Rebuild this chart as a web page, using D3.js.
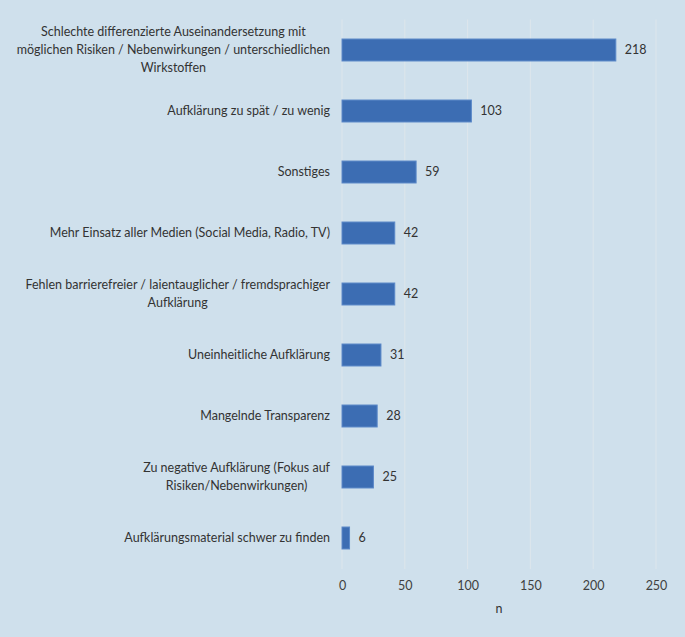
<!DOCTYPE html>
<html><head><meta charset="utf-8">
<script src="https://cdn.jsdelivr.net/npm/d3@7"></script>
<style>body{margin:0;background:#cfe0ec;} svg{display:block;}</style>
</head><body>
<svg id="c" width="685" height="637"></svg>
<script>
const categories = [
  ["Schlechte differenzierte Auseinandersetzung mit","möglichen Risiken / Nebenwirkungen / unterschiedlichen","Wirkstoffen"],
  ["Aufklärung zu spät / zu wenig"],
  ["Sonstiges"],
  ["Mehr Einsatz aller Medien (Social Media, Radio, TV)"],
  ["Fehlen barrierefreier / laientauglicher / fremdsprachiger","Aufklärung"],
  ["Uneinheitliche Aufklärung"],
  ["Mangelnde Transparenz"],
  ["Zu negative Aufklärung (Fokus auf","Risiken/Nebenwirkungen)"],
  ["Aufklärungsmaterial schwer zu finden"]
];
const values = [218, 103, 59, 42, 42, 31, 28, 25, 6];
const xTicks = [0, 50, 100, 150, 200, 250];
const axisTitle = "n";

const svg = d3.select("#c");
const font = "Lato, 'Open Sans', sans-serif";
svg.append("rect").attr("width",685).attr("height",637).attr("fill","#cfe0ec");

const x = d3.scaleLinear().domain([0,250]).range([342,656]);
const y = d3.scaleBand().domain(d3.range(values.length)).range([19.5,568.5]).paddingInner(0.64).paddingOuter(0.32);

// gridlines
svg.append("g").selectAll("line").data(xTicks).join("line")
  .attr("x1",d=>x(d)).attr("x2",d=>x(d)).attr("y1",19.5).attr("y2",569)
  .attr("stroke","#dde6ec").attr("stroke-width",1);

// bars
svg.append("g").selectAll("rect").data(values).join("rect")
  .attr("x",x(0)).attr("y",(d,i)=>y(i))
  .attr("width",d=>x(d)-x(0)).attr("height",y.bandwidth())
  .attr("fill","#3c6db3").attr("stroke","#5a88c8").attr("stroke-width",1);

// value labels
svg.append("g").selectAll("text").data(values).join("text")
  .attr("x",d=>x(d)+9).attr("y",(d,i)=>y(i)+y.bandwidth()/2)
  .attr("dy","0.35em").attr("font-family",font).attr("font-size",12.5)
  .attr("fill","#333").text(d=>d);

// category labels
const lh = 18;
const rightEdge = 330;
const gl = svg.append("g").attr("font-family",font).attr("font-size",12.5).attr("fill","#333");
categories.forEach((lines,i)=>{
  const cy = y(i)+y.bandwidth()/2;
  const t = gl.append("text").attr("text-anchor","middle");
  const n = lines.length;
  let maxW = 0;
  lines.forEach((ln,j)=>{
    const ts = t.append("tspan").attr("x",0).attr("y",cy+(j-(n-1)/2)*lh).attr("dy","0.35em").text(ln);
    maxW = Math.max(maxW, ts.node().getComputedTextLength());
  });
  t.selectAll("tspan").attr("x",rightEdge-maxW/2);
});

// axis
const ax = svg.append("g").attr("transform","translate(0,569)")
  .call(d3.axisBottom(x).tickValues(xTicks).tickSize(0).tickPadding(12));
ax.select(".domain").remove();
ax.selectAll("text").attr("font-family",font).attr("font-size",12.5).attr("fill","#404040");

svg.append("text").attr("x",(x(0)+x(250))/2).attr("y",609).attr("dy","0.35em")
  .attr("text-anchor","middle").attr("font-family",font).attr("font-size",12.5)
  .attr("fill","#333").text(axisTitle);
</script>
</body></html>
